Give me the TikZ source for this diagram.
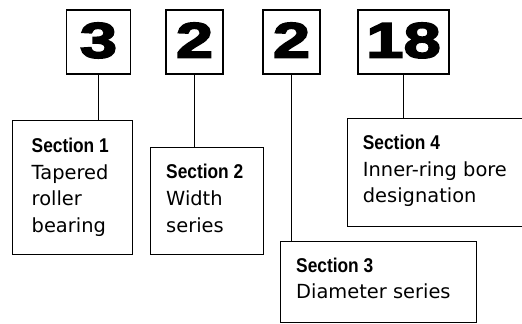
\documentclass[tikz,border=0pt]{standalone}
\usepackage{fontspec}
\usetikzlibrary{positioning}
\newfontfamily\bodyfont{DejaVu Sans}
\newfontfamily\secfont{Liberation Sans}[FakeStretch=0.87]
\newfontfamily\digitfont{Liberation Sans}[FakeStretch=1.35,FakeBold=3.5]
\tikzset{numbox/.style={draw,line width=1.2bp,inner sep=0pt,minimum height=64bp,text depth=3.6bp,font=\digitfont\bfseries\fontsize{50}{50}\selectfont},secbox/.style={draw,line width=1.2bp,inner sep=0pt,anchor=north west},seclabel/.style={anchor=north west,align=left,inner sep=0pt,font=\bodyfont\fontsize{19.5}{26.7}\selectfont},link/.style={line width=1.1bp}}
\newcommand\sechead[1]{{\secfont\bfseries\fontsize{20}{20}\selectfont Section #1}}

\begin{document}
\begin{tikzpicture}[x=1bp,y=-1bp]
\useasboundingbox (0,0) rectangle (522,323);
\clip (0,0) rectangle (522,323);
% code digits
\node[numbox,minimum width=64bp] (n1) at (98.5,42) {3};
\node[numbox,minimum width=57bp] (n2) at (194.5,42) {2};
\node[numbox,minimum width=57bp] (n3) at (291.5,42) {2};
\node[numbox,minimum width=91bp] (n4) at (403.5,42) {18};
% section boxes
\node[secbox,minimum width=120bp,minimum height=134bp] (s1) at (12,120) {};
\node[secbox,minimum width=113bp,minimum height=107bp] (s2) at (150,147) {};
\node[secbox,minimum width=196bp,minimum height=81bp] (s3) at (280,241) {};
\node[secbox,minimum width=200bp,minimum height=108bp] (s4) at (347,118) {};
\node[seclabel] (t1) at ([xshift=19.5bp,yshift=-18bp]s1.north west) {\sechead{1}\\Tapered\\roller\\bearing};
\node[seclabel] (t2) at ([xshift=16bp,yshift=-17.2bp]s2.north west) {\sechead{2}\\Width\\series};
\node[seclabel] (t3) at ([xshift=16bp,yshift=-16.4bp]s3.north west) {\sechead{3}\\Diameter series};
\node[seclabel] (t4) at ([xshift=15.7bp,yshift=-17bp]s4.north west) {\sechead{4}\\Inner-ring bore\\designation};
% connectors
\draw[link] (n1.south) -- (n1.south |- s1.north);
\draw[link] (n2.south) -- (n2.south |- s2.north);
\draw[link] (n3.south) -- (n3.south |- s3.north);
\draw[link] (n4.south) -- (n4.south |- s4.north);
\end{tikzpicture}
\end{document}
